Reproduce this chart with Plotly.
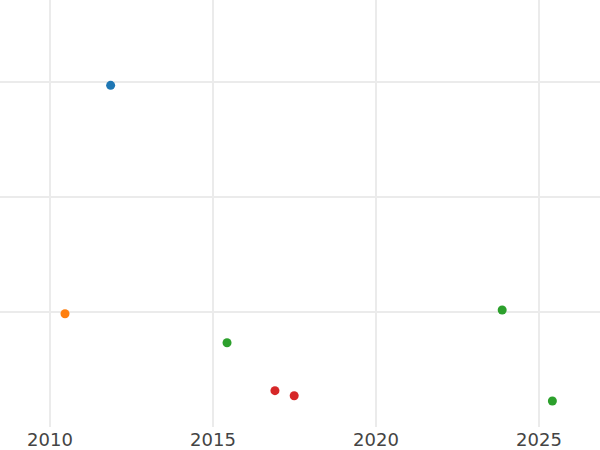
import plotly.graph_objects as go

# Data
series_names = ["A", "B", "C", "D"]
series_colors = ["#1f77b4", "#ff7f0e", "#2ca02c", "#d62728"]
x_a = [2011.86]
y_a = [29.71]
x_b = [2010.46]
y_b = [9.85]
x_c = [2015.43, 2023.87, 2025.41]
y_c = [7.33, 10.17, 2.26]
x_d = [2016.90, 2017.49]
y_d = [3.16, 2.72]

xs = [x_a, x_b, x_c, x_d]
ys = [y_a, y_b, y_c, y_d]

x_tickvals = [2010, 2015, 2020, 2025]
x_ticktext = ["2010", "2015", "2020", "2025"]
y_tickvals = [10, 20, 30]

fig = go.Figure()
for name, color, x, y in zip(series_names, series_colors, xs, ys):
    fig.add_trace(go.Scatter(x=x, y=y, mode="markers", name=name,
                             marker=dict(color=color, size=9)))

fig.update_layout(
    width=600, height=450,
    margin=dict(l=0, r=0, t=0, b=23, pad=0),
    paper_bgcolor="white", plot_bgcolor="white",
    showlegend=False,
    font=dict(family="DejaVu Sans", size=18, color="#444444"),
)
fig.update_xaxes(range=[2008.466, 2026.871], tickvals=x_tickvals, ticktext=x_ticktext,
                 tickfont=dict(family="DejaVu Sans", size=18, color="#444444"),
                 showgrid=True, gridcolor="#ebebeb", gridwidth=1.5,
                 zeroline=False, showline=False, ticks="", automargin=False)
fig.update_yaxes(range=[0, 37.13], tickvals=y_tickvals, showticklabels=False,
                 showgrid=True, gridcolor="#ebebeb", gridwidth=1.5,
                 zeroline=False, showline=False, ticks="", automargin=False)

fig.write_html("out.html", config={"displayModeBar": False},
               post_script="document.body.style.margin='0';document.body.style.padding='0';")
